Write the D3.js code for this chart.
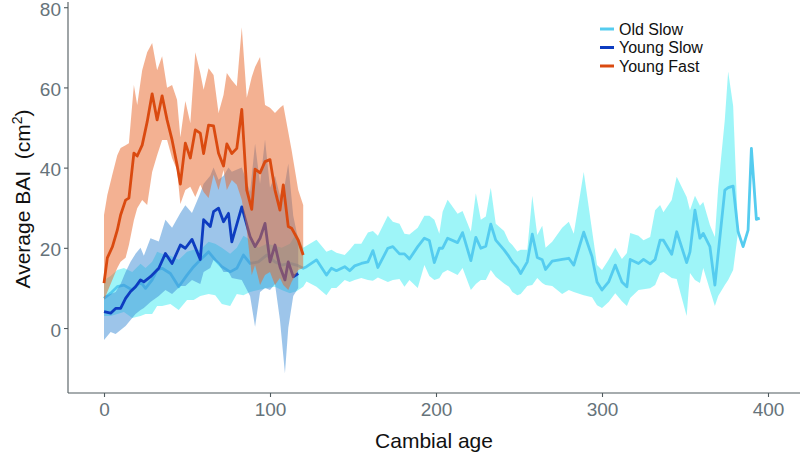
<!DOCTYPE html>
<html><head><meta charset="utf-8">
<script src="https://cdn.jsdelivr.net/npm/d3@7"></script>
<style>body{margin:0;background:#fff}svg{display:block}</style>
</head><body>
<svg id="chart" width="800" height="452"></svg>
<script>
// ---------- DATA ----------
const seriesNames = ["Old Slow", "Young Slow", "Young Fast"];
const xTicks = [0, 100, 200, 300, 400];
const yTicks = [0, 20, 40, 60, 80];

// Old Slow
const osAge  = [0,4,8,12,17,22,25,29,32,35,40,45,50,54,58,63,67,71,76,80,84,88,93,98,103,107,112,116,120,122,128,134,137,140,145,148,151,155,159,162,165,171,174,178,181,184,189,193,196,199,202,204,207,213,216,221,224,227,230,233,236,241,244,246,249,251,255,258,261,264,266,270,276,280,283,289,294,297,300,304,308,312,315,317,322,325,329,332,335,337,342,345,351,353,356,359,361,365,368,370,374,376,379,382,385,388,390,393,395];
const osMean = [7.4,8.7,10.3,10.7,9.5,11.5,9.9,12,14.5,14.9,13.6,10.3,13.2,15.3,17,19,17,15.3,14,14.9,18.2,16.1,16.5,18.2,16.5,15.7,16.1,15.7,14.9,15.3,17,13.2,14.9,14.3,15.3,14.3,15.5,16.1,16.5,19.3,15.1,19.9,20.3,18.5,18.5,17.2,20.3,22.4,21.8,16.3,19.9,19.9,22.4,21.3,23.8,16.8,22.6,19.9,20.4,25.9,21.9,19.5,17.8,16.5,15.1,13.6,16.5,23.4,17.6,17,14.6,16.7,17.1,17.4,15.7,23.9,17.8,11.5,9.5,11.5,15.7,11.5,10.3,17.1,16.1,17.1,16,17.1,21.9,21.9,18.4,24,16.3,19,29.4,22.4,23.6,20.3,10.7,18.6,34.4,35,35.4,24,20.3,24.4,44.8,27.1,27.4];
const osLo   = [3,3,3.5,4,2.5,3,3.5,3.5,5.5,5.5,6,4.5,7,7,8,8.5,8.2,6,5.5,8.5,8.2,9,9.5,10,10.3,9.5,8.7,9.2,10.3,11.6,10.3,8.2,10,10,12,11.5,12,12.5,12,11.8,12.6,11.5,12,12.2,10.3,12,10,15.7,13,12,12.4,13.8,14.5,13.2,15,9.5,11,12,12,14.5,12.8,11.1,10.3,9,8.2,8.5,10.5,10.7,12.5,11.2,10.7,10.5,8.5,9.5,9,8.2,7.7,5.7,5,6.5,8.7,6.7,5.5,7.5,9.5,9.7,9.9,10.7,13.7,14,12.5,12.2,3,13.7,12,11.2,15,9.5,5.5,8,10.7,12,14.5,24,20.3,24.4,44.8,27.1,27.4];
const osHi   = [12,13,14.5,15,14,16,15,16.5,19,18.5,18,17,19,19.5,19.5,21.5,21,20,18.5,20,23,22,20,21,20.5,20,21,23.7,20,20.5,22,19,19.5,18.8,18.2,19.5,21,21,23.8,24.2,23,28,26.5,26,23.5,23.3,25,28,28,27,23.5,29,32,28.5,29.2,24,33.6,27,27.8,35,26,24.2,21.5,20.7,19.1,19.5,19.5,33,23.2,25.5,20,21.5,25,26.5,23.5,38.9,24.4,15.7,14.5,17,20,17.2,18.7,23.7,23,21.9,22.7,29.4,30.7,28.9,31.9,37.7,32.7,29.4,33,30.5,31.4,25.7,22.7,35,52,64,55.4,24,20.3,24.4,44.8,27.1,27.4];

// Young Slow
const ysAge  = [0,4,7,10,13,16,19,22,24,28,33,37,41,46,49,53,58,60,64,66,69,72,75,77,83,88,91,94,97,100,103,106,109,111,114,117];
const ysMean = [4.1,3.7,4.9,4.9,7.4,9.1,10.3,12,11.5,12.8,14.9,18.6,16.1,20.7,19.9,22.1,17.1,27,25.3,29,29.9,26.5,28.6,21.5,30.2,22.8,20.3,22.4,26.1,16.5,20.7,15.3,12,16.5,12.8,13.6];
const ysLo   = [-3,-1,-1.5,-0.5,0.5,2,3.5,4.5,5,6.5,8,9.5,8.5,10.5,10.5,12,11,14,15,17,16,14,14,12.5,12,8,0.3,9,10,9.5,11,2,-11.3,0,8,10];
const ysHi   = [8,8.5,9,11,14,16.5,18.5,20,18,22.4,21.6,27,25,28.7,30.6,28.7,33.6,36,38,40,37,38,40,39,40,34,46,36,47,35,38,33,36,41,28,22];

// Young Fast
const yfAge  = [0,2,5,8,10,13,15,18,20,23,26,29,32,35,38,41,44,46,49,52,55,58,60,63,66,69,72,74,77,80,83,86,89,91,94,97,100,103,106,108,111,113,117,120];
const yfMean = [11.2,17.5,20.2,24.4,28.2,31.9,32.4,43.6,42.9,45.6,51.4,58.4,51.9,57.9,51.9,46.9,40.7,35.9,46.1,42.4,49.4,48.6,43.5,50.6,50.4,43.6,40.4,45.9,43.5,44.8,54.5,34.4,29.6,39.6,38.7,41.5,42,34.4,29.4,35.7,25.3,24.9,21.9,18.2];
const yfLo   = [7,9,12,15,16.5,17.5,20.7,26.9,29.9,31.9,30.7,38.9,43.1,46.9,46.9,42.4,39.4,30.9,34.4,35.2,32.7,35.7,33.9,32.4,38.2,34.4,39.4,34.4,36.9,35.7,31.9,24.4,13.2,15.7,10.7,13.2,14,10.7,12.5,10.7,9.5,11.5,14.5,15];
const yfHi   = [28.2,33.2,38.2,43.1,44.9,45.6,46.1,60.6,55.6,64.3,68.8,71.1,64.3,67.8,59.9,60.6,56.9,47.6,56.6,51.1,68.8,63.6,59.4,64.8,63.1,53.6,58.1,63.6,61.8,60.3,75,57.4,62.6,65.1,67.6,55.6,54.9,53.6,54.9,55.6,48.9,44.4,34.4,30.7];

// ---------- CHART ----------
const svg = d3.select("#chart");
const panel = {left: 68, right: 800, top: 2, bottom: 393};
const x = d3.scaleLinear().domain([-21.69, 419.28]).range([panel.left, panel.right]);
const y = d3.scaleLinear().domain([-16.2, 81.3]).range([panel.bottom, panel.top]);

const series = [
  {name: seriesNames[0], age: osAge, mean: osMean, lo: osLo, hi: osHi, line: "#55CCEF", fill: "#5DEEF3", op: 0.6},
  {name: seriesNames[1], age: ysAge, mean: ysMean, lo: ysLo, hi: ysHi, line: "#0D3CC0", fill: "#3C8BD6", op: 0.5},
  {name: seriesNames[2], age: yfAge, mean: yfMean, lo: yfLo, hi: yfHi, line: "#DA4A10", fill: "#E86A2E", op: 0.52}
];

const g = svg.append("g");
series.forEach(s => {
  const pts = s.age.map((a, i) => ({a, m: s.mean[i], lo: s.lo[i], hi: s.hi[i]}));
  g.append("path").datum(pts)
    .attr("d", d3.area().x(d => x(d.a)).y0(d => y(d.lo)).y1(d => y(d.hi)))
    .attr("fill", s.fill).attr("fill-opacity", s.op).attr("stroke", "none");
  g.append("path").datum(pts)
    .attr("d", d3.line().x(d => x(d.a)).y(d => y(d.m)))
    .attr("fill", "none").attr("stroke", s.line).attr("stroke-width", 2.8)
    .attr("stroke-linejoin", "round");
});

const axisColor = "#4f5a5e", labelColor = "#66737a";
const font = "'Liberation Sans', Arial, sans-serif";

const ax = svg.append("g").attr("transform", `translate(0,${panel.bottom})`)
  .call(d3.axisBottom(x).tickValues(xTicks).tickSize(4).tickSizeOuter(0).tickPadding(6));
const ay = svg.append("g").attr("transform", `translate(${panel.left},0)`)
  .call(d3.axisLeft(y).tickValues(yTicks).tickSize(4).tickSizeOuter(0).tickPadding(3));
[ax, ay].forEach(a => {
  a.select(".domain").attr("stroke", axisColor).attr("stroke-width", 1.1);
  a.selectAll(".tick line").attr("stroke", axisColor).attr("stroke-width", 1.1);
  a.selectAll(".tick text").attr("fill", labelColor).attr("font-size", 19).attr("font-family", font);
});
ay.selectAll(".tick text").attr("dy", "0.42em");
ax.select(".domain").attr("d", `M${panel.left},0H${panel.right}`);
ay.select(".domain").attr("d", `M0,${panel.bottom}V${panel.top}`);

svg.append("text").attr("x", 434).attr("y", 448)
  .attr("text-anchor", "middle").attr("font-family", font).attr("font-size", 21).attr("fill", "#111")
  .text("Cambial age");

const yt = svg.append("text").attr("transform", `translate(30,199) rotate(-90)`)
  .attr("text-anchor", "middle").attr("font-family", font).attr("font-size", 21).attr("fill", "#111");
yt.append("tspan").text("Average BAI\u00a0 (cm");
yt.append("tspan").attr("font-size", 14).attr("dy", -8).text("2");
yt.append("tspan").attr("dy", 8).text(")");

// legend
const leg = svg.append("g").attr("transform", "translate(600,29)");
series.forEach((s, i) => {
  const r = leg.append("g").attr("transform", `translate(0,${i * 18.5})`);
  r.append("line").attr("x1", 0).attr("x2", 14).attr("y1", 0).attr("y2", 0)
    .attr("stroke", s.line).attr("stroke-width", 3);
  r.append("text").attr("x", 19).attr("y", 0).attr("dy", "0.35em")
    .attr("font-family", font).attr("font-size", 16).attr("fill", "#111").text(s.name);
});
</script>
</body></html>
